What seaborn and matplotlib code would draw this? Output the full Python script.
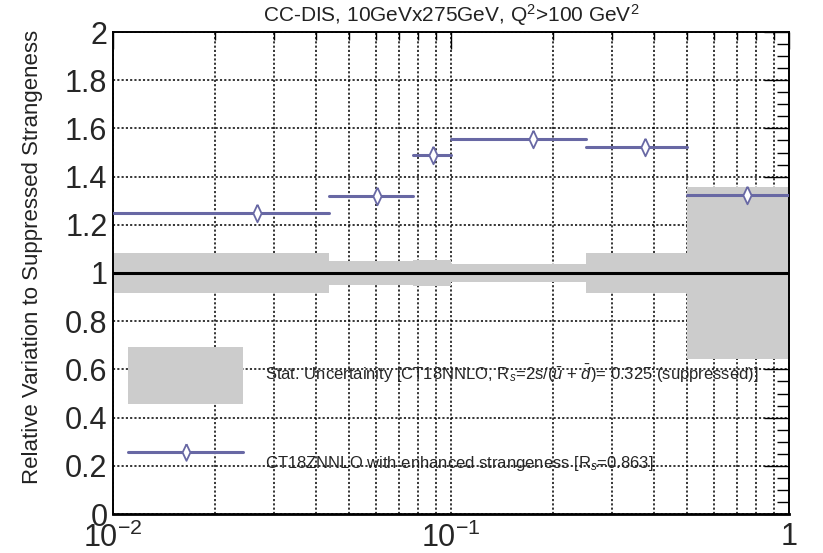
import numpy as np
import pandas as pd
import matplotlib
matplotlib.use("Agg")
import matplotlib.pyplot as plt
import seaborn as sns
from matplotlib.lines import Line2D
from matplotlib.patches import Patch
from matplotlib.ticker import FixedLocator, MultipleLocator, FuncFormatter, LogLocator, NullFormatter

# Bins in x and the per-bin values
bin_edges = [0.01, 0.0435, 0.077, 0.1, 0.25, 0.5, 1.0]
enhanced_ratio = [1.250, 1.318, 1.488, 1.554, 1.522, 1.323]
stat_unc = [0.083, 0.049, 0.056, 0.038, 0.081, 0.357]

x_tick_values = [0.01, 0.1, 1.0]
x_tick_labels = [r"$\mathregular{10^{-2}}$", r"$\mathregular{10^{-1}}$", "1"]

title_text = r"CC-DIS, 10GeVx275GeV, Q$^{2}$>100 GeV$^{2}$"
ylabel_text = "Relative Variation to Suppressed Strangeness"
label_stat = (r"Stat. Uncertainity [CT18NNLO, R$_{s}$=2s/($\bar{u}$ + $\bar{d}$)"
              r"= 0.325 (suppressed)]")
label_enh = r"CT18ZNNLO with enhanced strangeness [R$_{s}$=0.863]"

PURPLE = "#6868a4"
GREY = "#cccccc"

sns.set_style("white")
plt.rcParams["font.family"] = ["Liberation Sans", "DejaVu Sans"]
plt.rcParams["mathtext.fontset"] = "custom"
plt.rcParams["mathtext.rm"] = "Liberation Sans"
plt.rcParams["mathtext.it"] = "Liberation Sans:italic"
plt.rcParams["mathtext.bf"] = "Liberation Sans:bold"

lo = np.array(bin_edges[:-1])
hi = np.array(bin_edges[1:])
centers = (lo + hi) / 2.0
ratio = np.array(enhanced_ratio)
unc = np.array(stat_unc)

seg_df = pd.DataFrame({
    "x": np.column_stack([lo, hi]).ravel(),
    "ratio": np.repeat(ratio, 2),
    "bin": np.repeat(np.arange(len(ratio)), 2),
})
pts_df = pd.DataFrame({"x": centers, "ratio": ratio})

fig = plt.figure(figsize=(8.23, 5.53), dpi=100)
ax = fig.add_axes([113 / 823, 1 - 514 / 553, 676 / 823, 482 / 553])
ax.set_xscale("log")
ax.set_xlim(0.01, 1.0)
ax.set_ylim(0, 2)
ax.set_axisbelow(True)

# statistical uncertainty band around unity
ax.bar(lo, 2 * unc, bottom=1 - unc, width=hi - lo, align="edge",
       color=GREY, linewidth=0, zorder=1)
ax.axhline(1.0, color="black", lw=2.2, zorder=2)

# enhanced-strangeness ratio: horizontal bin segments plus open diamonds
diamond = [(0, 1), (0.47, 0), (0, -1), (-0.47, 0), (0, 1)]
sns.lineplot(data=seg_df, x="x", y="ratio", units="bin", estimator=None,
             sort=False, color=PURPLE, lw=2.2, ax=ax, zorder=3, legend=False)
sns.scatterplot(data=pts_df, x="x", y="ratio", marker=diamond, s=160,
                facecolor="white", edgecolor=PURPLE, linewidth=1.3,
                ax=ax, zorder=4, legend=False)

# axes decoration
ax.xaxis.set_major_locator(FixedLocator(x_tick_values))
ax.set_xticklabels(x_tick_labels)
ax.xaxis.set_minor_locator(LogLocator(base=10, subs=np.arange(2, 10)))
ax.xaxis.set_minor_formatter(NullFormatter())
ax.yaxis.set_major_locator(MultipleLocator(0.2))
ax.yaxis.set_minor_locator(MultipleLocator(0.05))
ax.yaxis.set_major_formatter(FuncFormatter(lambda v, p: f"{v:g}"))

ax.grid(True, which="major", axis="y", color="black", lw=1.1, linestyle=(0, (1.4, 1.4)))
ax.grid(True, which="both", axis="x", color="black", lw=1.1, linestyle=(0, (1.4, 1.4)))

ax.tick_params(axis="both", which="both", direction="in", top=True, right=True,
               color="black", width=1.0)
ax.tick_params(axis="y", which="major", length=18, labelsize=22, pad=4)
ax.tick_params(axis="y", which="minor", length=9)
ax.tick_params(axis="x", which="major", length=12, labelsize=22, pad=6)
ax.tick_params(axis="x", which="minor", length=6)
for side in ["left", "right", "top"]:
    ax.spines[side].set_linewidth(1.4)
    ax.spines[side].set_color("black")
ax.spines["bottom"].set_linewidth(2.0)
ax.spines["bottom"].set_color("black")

ax.set_xlabel("")
ax.set_ylabel(ylabel_text, fontsize=16, loc="top", color="#222222")
ax.yaxis.set_label_coords(-0.1036, 1.004)
ax.set_title(title_text, fontsize=15, pad=7, color="#222222")

handles = [
    Patch(facecolor=GREY, edgecolor="none"),
    Line2D([0], [0], color=PURPLE, lw=2.2, marker=diamond, markersize=12,
           markerfacecolor="white", markeredgecolor=PURPLE, markeredgewidth=1.3),
]
ax.legend(handles, [label_stat, label_enh], loc="upper left",
          bbox_to_anchor=(0.0222, 0.3465), frameon=False, borderpad=0,
          borderaxespad=0, handlelength=6.9, handleheight=4.9,
          labelspacing=1.89, handletextpad=1.32, fontsize=12, numpoints=1)

fig.savefig("out.png", dpi=100)
